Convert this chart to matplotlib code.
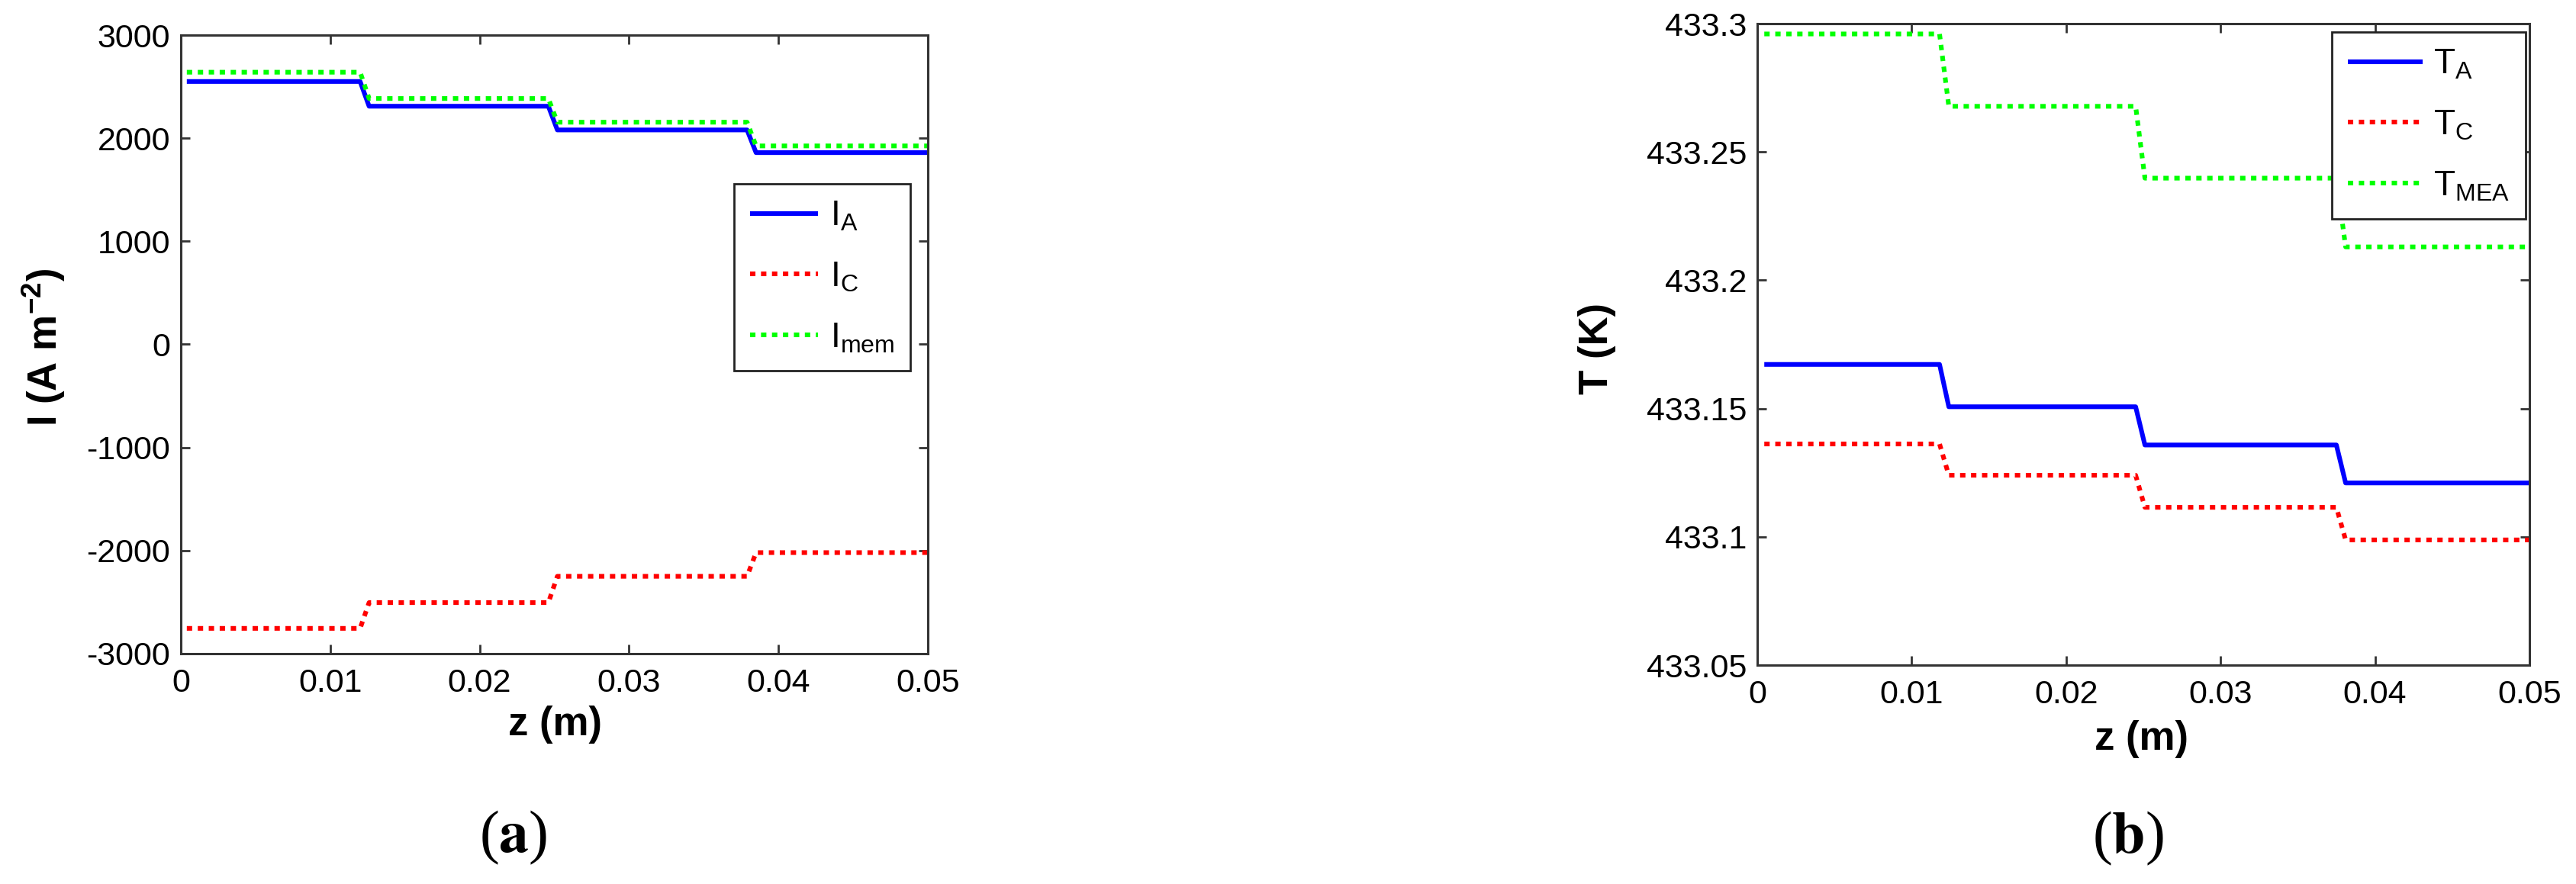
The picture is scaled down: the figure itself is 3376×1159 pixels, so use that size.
import numpy as np
import matplotlib
matplotlib.use("Agg")
import matplotlib.pyplot as plt

plt.rcParams['font.family'] = ['Liberation Sans', 'DejaVu Sans']
plt.rcParams['mathtext.fontset'] = 'custom'
plt.rcParams['mathtext.rm'] = 'Liberation Sans'
plt.rcParams['mathtext.it'] = 'Liberation Sans:italic'
plt.rcParams['mathtext.bf'] = 'Liberation Sans:bold'
plt.rcParams['axes.unicode_minus'] = False

# ---------------- data ----------------
# (a) current density, 4 segments along z
z_start_a = 0.0004
z_end = 0.05
steps_a = [(0.0120, 0.0126), (0.0246, 0.0252), (0.0379, 0.0385)]
I_A = [2550, 2310, 2080, 1860]
I_C = [-2755, -2505, -2250, -2020]
I_mem = [2640, 2385, 2155, 1925]

# (b) temperature
z_start_b = 0.00045
steps_b = [(0.0118, 0.0124), (0.0245, 0.0251), (0.0375, 0.0381)]
T_A = [433.1672, 433.1507, 433.1358, 433.1210]
T_C = [433.1362, 433.1240, 433.1115, 433.0988]
T_MEA = [433.2960, 433.2678, 433.2398, 433.2130]

x_ticks = [0, 0.01, 0.02, 0.03, 0.04, 0.05]
x_ticklabels = ['0', '0.01', '0.02', '0.03', '0.04', '0.05']
ya_ticks = [-3000, -2000, -1000, 0, 1000, 2000, 3000]
ya_ticklabels = ['-3000', '-2000', '-1000', '0', '1000', '2000', '3000']
yb_ticks = [433.05, 433.1, 433.15, 433.2, 433.25, 433.3]
yb_ticklabels = ['433.05', '433.1', '433.15', '433.2', '433.25', '433.3']


def step_profile(z0, z1, steps, levels):
    zs = [z0]
    vs = [levels[0]]
    for i, (a, b) in enumerate(steps):
        zs += [a, b]
        vs += [levels[i], levels[i + 1]]
    zs.append(z1)
    vs.append(levels[-1])
    return np.array(zs), np.array(vs)


BLUE = '#0000ff'
RED = '#ff0000'
GREEN = '#00ff00'
LW = 4.4
DOT = (0, (1.15, 1.2))

fig = plt.figure(figsize=(33.76, 11.59), dpi=100)
ax1 = fig.add_axes([0.0702, 0.2606, 0.2900, 0.6997])
ax2 = fig.add_axes([0.6822, 0.2476, 0.2997, 0.7256])


def style_axes(ax):
    for s in ax.spines.values():
        s.set_linewidth(2.2)
        s.set_color('#333333')
    ax.tick_params(direction='in', length=8.5, width=2.0, color='#333333',
                   top=True, right=True, labelsize=31, pad=10)
    ax.tick_params(axis='x', pad=14)


def plot_series(ax, z, vals, color, dotted, label):
    if dotted:
        ax.plot(z, vals, color=color, lw=LW, linestyle=DOT, dash_capstyle='butt', label=label)
    else:
        ax.plot(z, vals, color=color, lw=LW, solid_capstyle='butt', label=label)


# panel (a)
for vals, col, dotted, lab in [(I_A, BLUE, False, r'I$_\mathrm{A}$'),
                               (I_C, RED, True, r'I$_\mathrm{C}$'),
                               (I_mem, GREEN, True, r'I$_\mathrm{mem}$')]:
    z, v = step_profile(z_start_a, z_end, steps_a, vals)
    plot_series(ax1, z, v, col, dotted, lab)
ax1.set_xlim(0, 0.05)
ax1.set_ylim(-3000, 3000)
ax1.set_xticks(x_ticks)
ax1.set_xticklabels(x_ticklabels)
ax1.set_yticks(ya_ticks)
ax1.set_yticklabels(ya_ticklabels)
style_axes(ax1)
ax1.set_xlabel('z (m)', fontsize=38, fontweight='bold', va='center')
ax1.xaxis.set_label_coords(0.5005, -0.1147)
ax1.set_ylabel(r'I (A m$^{\mathbf{-2}}$)', fontsize=38, fontweight='bold', va='center')
ax1.yaxis.set_label_coords(-0.1839, 0.4957)
leg1 = ax1.legend(loc='upper right', bbox_to_anchor=(0.9765, 0.7596), borderaxespad=0,
                  fontsize=33, handlelength=1.95, handletextpad=0.35, borderpad=0.45,
                  labelspacing=0.78, fancybox=False, framealpha=1, edgecolor='#222222')
leg1.get_frame().set_linewidth(2.0)

# panel (b)
for vals, col, dotted, lab in [(T_A, BLUE, False, r'T$_\mathrm{A}$'),
                               (T_C, RED, True, r'T$_\mathrm{C}$'),
                               (T_MEA, GREEN, True, r'T$_\mathrm{MEA}$')]:
    z, v = step_profile(z_start_b, z_end, steps_b, vals)
    plot_series(ax2, z, v, col, dotted, lab)
ax2.set_xlim(0, 0.05)
ax2.set_ylim(433.05, 433.3)
ax2.set_xticks(x_ticks)
ax2.set_xticklabels(x_ticklabels)
ax2.set_yticks(yb_ticks)
ax2.set_yticklabels(yb_ticklabels)
style_axes(ax2)
ax2.set_xlabel('z (m)', fontsize=38, fontweight='bold', va='center')
ax2.xaxis.set_label_coords(0.4980, -0.1153)
ax2.set_ylabel('T (K)', fontsize=38, fontweight='bold', va='center')
ax2.yaxis.set_label_coords(-0.2075, 0.4935)
leg2 = ax2.legend(loc='upper right', bbox_to_anchor=(0.995, 0.987), borderaxespad=0,
                  fontsize=33, handlelength=2.15, handletextpad=0.3, borderpad=0.45,
                  labelspacing=0.78, fancybox=False, framealpha=1, edgecolor='#222222')
leg2.get_frame().set_linewidth(2.0)

# panel captions
fig.text(673 / 3376, 1 - 1098 / 1159, r'($\mathbf{a}$)', fontsize=56,
         family='Liberation Serif', math_fontfamily='stix', ha='center', va='center')
fig.text(2789 / 3376, 1 - 1099 / 1159, r'($\mathbf{b}$)', fontsize=56,
         family='Liberation Serif', math_fontfamily='stix', ha='center', va='center')

fig.savefig('out.png', dpi=100, facecolor='white')
